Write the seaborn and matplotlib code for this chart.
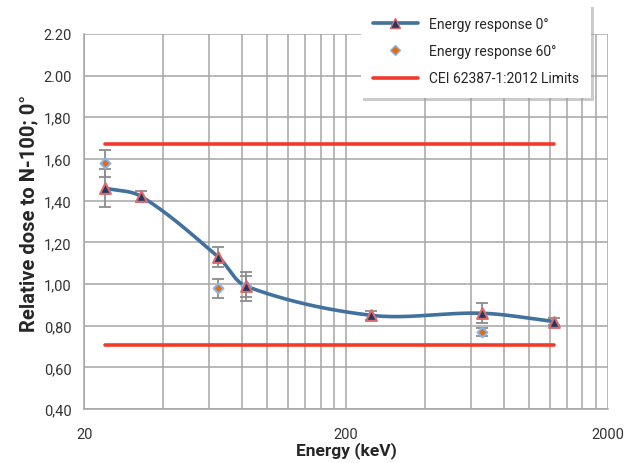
import numpy as np
import matplotlib
matplotlib.use('Agg')
import matplotlib.pyplot as plt
import matplotlib.ticker as mticker
from matplotlib.lines import Line2D
import seaborn as sns

# Dados
energia_0 = [24, 33, 65, 83, 250, 662, 1250]
resposta_0 = [1.46, 1.42, 1.13, 0.99, 0.85, 0.86, 0.82]
erro_0 = [0.09, 0.025, 0.05, 0.05, 0.023, 0.047, 0.015]

energia_60 = [24, 65, 83, 662]
resposta_60 = [1.58, 0.98, 0.99, 0.77]
erro_60 = [0.065, 0.045, 0.07, 0.018]

limite_energia = [24, 1250]
limite_sup = [1.67, 1.67]
limite_inf = [0.71, 0.71]

y_ticks = [0.4, 0.6, 0.8, 1.0, 1.2, 1.4, 1.6, 1.8, 2.0, 2.2]
y_ticklabels = ['0,40', '0,60', '0,80', '1,00', '1,20', '1,40', '1,60', '1,80', '2.00', '2.20']
x_ticks = [20, 200, 2000]
x_grade_sec = [40, 60, 80, 100, 120, 140, 160, 180,
               400, 600, 800, 1000, 1200, 1400, 1600, 1800]

cor_linha = '#41719C'
cor_limite = '#F23A2A'
cor_grade = '#A6A6A6'

sns.set_style('white')
plt.rcParams['font.family'] = ['Roboto', 'DejaVu Sans']


def suaviza(x, y, n=40):
    # bezier tipo Excel, em espaço de pixels (x log)
    u = np.log10(np.asarray(x, float)) * 262.0
    v = np.asarray(y, float) * 208.0
    P = np.column_stack([u, v])
    ext = np.vstack([2 * P[0] - P[1], P, 2 * P[-1] - P[-2]])
    d = np.linalg.norm(np.diff(ext, axis=0), axis=1)
    t = np.linspace(0, 1, n)[:, None]
    pts = []
    for i in range(len(P) - 1):
        j = i + 1
        T0 = ext[j + 1] - ext[j - 1]
        T1 = ext[j + 2] - ext[j]
        c1 = ext[j] + T0 * d[j] / (3 * (d[j - 1] + d[j]))
        c2 = ext[j + 1] - T1 * d[j] / (3 * (d[j] + d[j + 1]))
        seg = ((1 - t) ** 3) * ext[j] + 3 * ((1 - t) ** 2) * t * c1 + 3 * (1 - t) * t ** 2 * c2 + t ** 3 * ext[j + 1]
        pts.append(seg)
    pts = np.vstack(pts)
    return 10 ** (pts[:, 0] / 262.0), pts[:, 1] / 208.0


fig = plt.figure(figsize=(6.24, 4.64), dpi=100)
ax = fig.add_axes([0.135, 0.116, 0.839, 0.809])

ax.set_xscale('log')
ax.set_xlim(20, 2000)
ax.set_ylim(0.4, 2.2)

# grade
ax.grid(True, which='major', axis='both', color=cor_grade, lw=1.1)
ax.grid(True, which='minor', axis='x', color=cor_grade, lw=1.1)
ax.set_axisbelow(True)
for s in ['top', 'right']:
    ax.spines[s].set_visible(False)
for s in ['left', 'bottom']:
    ax.spines[s].set_color(cor_grade)
    ax.spines[s].set_linewidth(1.1)

# limites
sns.lineplot(x=limite_energia, y=limite_sup, ax=ax, color=cor_limite, lw=2.6, zorder=3)
sns.lineplot(x=limite_energia, y=limite_inf, ax=ax, color=cor_limite, lw=2.6, zorder=3)

# curva suavizada
xs, ys = suaviza(energia_0, resposta_0)
ax.plot(xs, ys, color=cor_linha, lw=2.6, zorder=4)

# barras de erro
ax.errorbar(energia_0, resposta_0, yerr=erro_0, fmt='none', ecolor='#8C8C8C',
            elinewidth=1.3, capsize=4, capthick=1.3, zorder=5)
ax.errorbar(energia_60, resposta_60, yerr=erro_60, fmt='none', ecolor='#8C8C8C',
            elinewidth=1.3, capsize=4, capthick=1.3, zorder=5)

# marcadores
ax.scatter(energia_60, resposta_60, marker='D', s=26, facecolor='#E46C0A',
           edgecolor='#8DB4E2', linewidth=1.4, zorder=6)
ax.scatter(energia_0, resposta_0, marker='^', s=60, facecolor='#1F3864',
           edgecolor='#D9696A', linewidth=1.5, zorder=7)

ax.xaxis.set_major_locator(mticker.FixedLocator(x_ticks))
ax.xaxis.set_major_formatter(mticker.FixedFormatter([str(v) for v in x_ticks]))
ax.xaxis.set_minor_locator(mticker.FixedLocator(x_grade_sec))
ax.xaxis.set_minor_formatter(mticker.NullFormatter())
ax.yaxis.set_major_locator(mticker.FixedLocator(y_ticks))
ax.yaxis.set_major_formatter(mticker.FixedFormatter(y_ticklabels))

ax.tick_params(axis='both', which='major', direction='out', length=5, width=1.1,
               color=cor_grade, labelsize=10.5, labelcolor='#333333', pad=4)
ax.tick_params(axis='x', which='minor', length=0)
ax.tick_params(axis='x', which='major', pad=8)

ax.set_xlabel('Energy (keV)', fontsize=12.5, fontweight='bold', labelpad=0)
ax.set_ylabel('Relative dose to N-100; 0°', fontsize=14.5, fontweight='bold')
ax.yaxis.set_label_coords(-0.088, 0.525)

# legenda
handles = [
    Line2D([], [], color=cor_linha, lw=2.6, marker='^', markersize=7,
           markerfacecolor='#1F3864', markeredgecolor='#D9696A'),
    Line2D([], [], color='none', marker='D', markersize=5,
           markerfacecolor='#E46C0A', markeredgecolor='#8DB4E2'),
    Line2D([], [], color=cor_limite, lw=2.6),
]
labels = ['Energy response 0°', 'Energy response 60°', 'CEI 62387-1:2012 Limits']
leg = fig.legend(handles, labels, loc='upper left', bbox_to_anchor=(0.578, 0.988),
                 frameon=True, fancybox=False, shadow={'color': '0.6', 'alpha': 0.5},
                 fontsize=10, handlelength=3.2, labelspacing=0.95, borderpad=0.9,
                 handletextpad=0.8, borderaxespad=0)
leg.get_frame().set_edgecolor('white')
leg.get_frame().set_linewidth(0)

fig.savefig('out.png', dpi=100)
